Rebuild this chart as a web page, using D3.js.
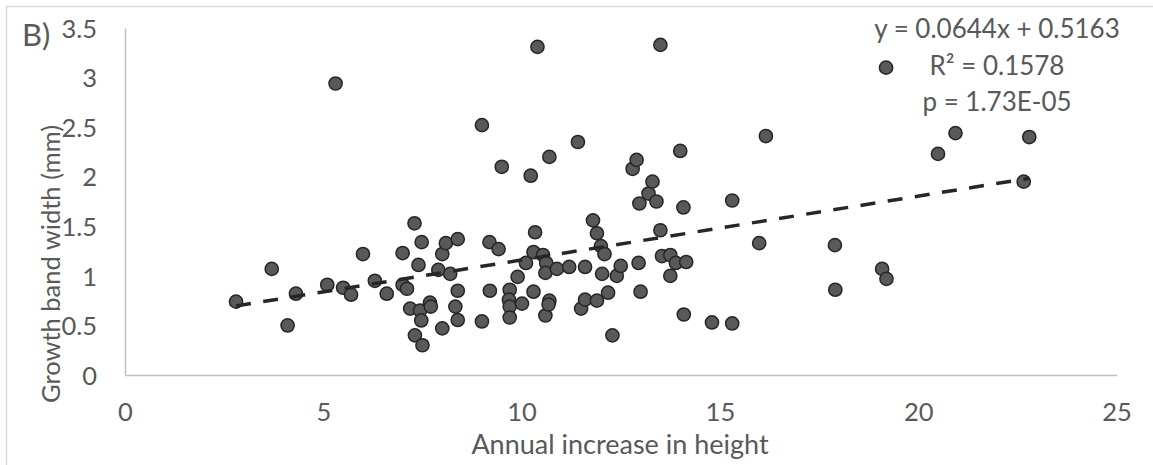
<!DOCTYPE html>
<html>
<head>
<meta charset="utf-8">
<script src="https://cdn.jsdelivr.net/npm/d3@7"></script>
<style>
  body { margin: 0; background: #fff; }
  text { font-family: Lato, "Open Sans", sans-serif; fill: #595959; }
</style>
</head>
<body>
<div id="chart-area"></div>
<script>

// annual increase in height (x) and growth band width in mm (y)
const heightIncrease = [
    2.80, 3.70, 4.10, 4.31, 5.10, 5.31, 5.50, 5.70, 6.00, 6.30,
    6.60, 7.00, 7.00, 7.11, 7.19, 7.30, 7.31, 7.40, 7.48, 7.44,
    7.47, 7.50, 7.69, 7.71, 7.90, 8.00, 8.00, 8.09, 8.20, 8.33,
    8.39, 8.39, 8.39, 9.00, 9.00, 9.19, 9.20, 9.42, 9.50, 9.70,
    9.68, 9.70, 9.70, 9.90, 10.01, 10.11, 10.23, 10.30, 10.30, 10.34,
    10.40, 10.54, 10.62, 10.60, 10.60, 10.70, 10.70, 10.68, 10.89, 11.20,
    11.42, 11.50, 11.60, 11.60, 11.80, 11.90, 11.90, 12.00, 12.03, 12.09,
    12.18, 12.29, 12.40, 12.50, 12.80, 12.90, 12.95, 12.97, 13.00, 13.20,
    13.30, 13.40, 13.50, 13.50, 13.54, 13.75, 13.75, 13.89, 14.00, 14.08,
    14.09, 14.15, 14.80, 15.31, 15.31, 15.99, 16.16, 17.90, 17.91, 19.09,
    19.20, 19.19, 20.50, 20.94, 22.66, 22.80
]
const bandWidth = [
    0.74, 1.07, 0.50, 0.82, 0.91, 2.94, 0.88, 0.81, 1.22, 0.95,
    0.82, 1.23, 0.91, 0.87, 0.67, 1.53, 0.40, 1.11, 1.34, 0.65,
    0.55, 0.30, 0.73, 0.69, 1.06, 1.22, 0.47, 1.33, 1.02, 0.69,
    1.37, 0.85, 0.555, 2.52, 0.54, 1.34, 0.85, 1.27, 2.10, 0.86,
    0.76, 0.69, 0.58, 0.99, 0.72, 1.13, 2.01, 1.24, 0.84, 1.44,
    3.31, 1.21, 1.13, 1.03, 0.60, 2.20, 0.75, 0.71, 1.07, 1.09,
    2.35, 0.67, 1.09, 0.76, 1.56, 1.43, 0.75, 1.30, 1.02, 1.22,
    0.83, 0.40, 1.00, 1.10, 2.08, 2.17, 1.13, 1.73, 0.84, 1.83,
    1.95, 1.75, 3.33, 1.46, 1.20, 1.21, 1.00, 1.13, 2.26, 1.69,
    0.61, 1.14, 0.53, 1.76, 0.52, 1.33, 2.41, 1.31, 0.86, 1.07,
    0.97, 3.10, 2.23, 2.44, 1.95, 2.40
]

const xTicks = [0, 5, 10, 15, 20, 25]
const yTicks = [0, 0.5, 1, 1.5, 2, 2.5, 3, 3.5]

const trendSlope = 0.0644
const trendIntercept = 0.5163
const trendLabels = ['y = 0.0644x + 0.5163', 'R² = 0.1578', 'p = 1.73E-05']

const W = 1153
const H = 465
const MARGIN = { LEFT: 125, RIGHT: 37, TOP: 28, BOTTOM: 90 }

const data = heightIncrease.map((x, i) => ({ x: x, y: bandWidth[i] }))

const svg = d3.select('#chart-area').append('svg')
    .attr('width', W)
    .attr('height', H)

// outer chart border (runs off the right and bottom edge)
svg.append('rect')
    .attr('x', 6.5).attr('y', 6.5)
    .attr('width', W + 20).attr('height', H + 20)
    .attr('fill', 'none')
    .attr('stroke', '#d9d9d9')
    .attr('stroke-width', 1.5)

const x = d3.scaleLinear()
    .domain([0, 25])
    .range([MARGIN.LEFT, W - MARGIN.RIGHT + 0.5])

const y = d3.scaleLinear()
    .domain([0, 3.5])
    .range([H - MARGIN.BOTTOM, MARGIN.TOP])

const xAxisCall = d3.axisBottom(x).tickValues(xTicks).tickSize(0).tickPadding(28)
const yAxisCall = d3.axisLeft(y).tickValues(yTicks).tickSize(0).tickPadding(28)
    .tickFormat(d3.format('~g'))

const xAxis = svg.append('g')
    .attr('class', 'x axis')
    .attr('transform', `translate(0, ${H - MARGIN.BOTTOM})`)
    .call(xAxisCall)

const yAxis = svg.append('g')
    .attr('class', 'y axis')
    .attr('transform', `translate(${MARGIN.LEFT}, 0)`)
    .call(yAxisCall)

svg.selectAll('.axis path').attr('stroke', '#bfbfbf').attr('stroke-width', 1.5)
svg.selectAll('.axis text')
    .attr('font-family', 'Lato, sans-serif')
    .attr('font-size', 25.5)
    .attr('fill', '#595959')
yAxis.selectAll('text').attr('dy', '0.36em')

// points
svg.append('g').selectAll('circle')
    .data(data)
    .enter().append('circle')
    .attr('cx', d => x(d.x))
    .attr('cy', d => y(d.y))
    .attr('r', 6.6)
    .attr('fill', '#595959')
    .attr('stroke', '#262626')
    .attr('stroke-width', 1.5)

// linear trendline over the data range
const xExt = d3.extent(heightIncrease)
const line = d3.line()
    .x(d => x(d))
    .y(d => y(trendSlope * d + trendIntercept))

svg.append('path')
    .attr('d', line(xExt))
    .attr('fill', 'none')
    .attr('stroke', '#262626')
    .attr('stroke-width', 3.5)
    .attr('stroke-dasharray', '15,12.5')

// trendline label
svg.append('g').selectAll('text')
    .data(trendLabels)
    .enter().append('text')
    .attr('x', 997)
    .attr('y', (d, i) => 38 + i * 36.5)
    .attr('text-anchor', 'middle')
    .attr('font-size', 26)
    .text(d => d)

// axis titles
svg.append('text')
    .attr('x', 620)
    .attr('y', 454)
    .attr('text-anchor', 'middle')
    .attr('font-size', 27)
    .text('Annual increase in height')

svg.append('text')
    .attr('transform', 'translate(60, 264) rotate(-90)')
    .attr('text-anchor', 'middle')
    .attr('font-size', 25.5)
    .text('Growth band width (mm)')

svg.append('text')
    .attr('x', 22)
    .attr('y', 46)
    .attr('font-size', 31)
    .text('B)')

</script>
</body>
</html>
